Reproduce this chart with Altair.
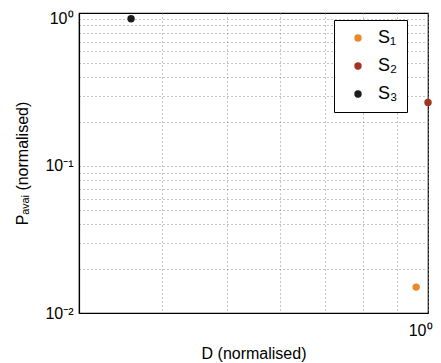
import altair as alt
import pandas as pd

series = ["S\u2081", "S\u2082", "S\u2083"]
d_vals = [0.96, 1.0, 0.359]
p_vals = [0.015, 0.27, 1.0]
colors = ["#e8892a", "#a3341f", "#1c1c1c"]

y_grid = [0.01, 0.02, 0.03, 0.04, 0.05, 0.06, 0.07, 0.08, 0.09,
          0.1, 0.2, 0.3, 0.4, 0.5, 0.6, 0.7, 0.8, 0.9, 1]
x_grid = [0.4, 0.5, 0.6, 0.7, 0.8, 0.9, 1]

df = pd.DataFrame({"series": series, "D": d_vals, "P": p_vals})

font = "Liberation Sans"

chart = alt.Chart(df).mark_circle(size=55, opacity=1).encode(
    x=alt.X("D:Q", scale=alt.Scale(type="log", domain=[0.3, 1.0], nice=False),
            axis=alt.Axis(title="D (normalised)", values=x_grid,
                          labelExpr="datum.value == 1 ? '10\u2070' : ''",
                          grid=True, gridDash=[1, 3], gridColor="#888888",
                          ticks=False, domainColor="black", domainWidth=1.2,
                          labelPadding=9, titlePadding=7,
                          labelAlign="right", labelOffset=4,
                          labelFontSize=16, titleFontSize=16,
                          labelFont=font, titleFont=font,
                          labelColor="black", titleColor="black",
                          titleFontWeight="normal", labelFlush=False)),
    y=alt.Y("P:Q", scale=alt.Scale(type="log", domain=[0.01, 1.094], nice=False),
            axis=alt.Axis(title="P\u2090\u1d65\u2090\u1d62 (normalised)", values=y_grid,
                          labelExpr="datum.value == 1 ? '10\u2070' : datum.value == 0.1 ? '10\u207b\u00b9' : datum.value == 0.01 ? '10\u207b\u00b2' : ''",
                          grid=True, gridDash=[1, 3], gridColor="#888888",
                          ticks=False, domainColor="black", domainWidth=1.2,
                          labelPadding=6, titlePadding=14,
                          labelFontSize=16, titleFontSize=16,
                          labelFont=font, titleFont=font,
                          labelColor="black", titleColor="black",
                          titleFontWeight="normal")),
    color=alt.Color("series:N", scale=alt.Scale(domain=series, range=colors),
                    legend=alt.Legend(title=None, orient="none", legendX=255, legendY=7,
                                      fillColor="white", strokeColor="black",
                                      padding=9, labelFontSize=18, labelFont=font,
                                      labelColor="black", symbolSize=55,
                                      symbolType="circle", rowPadding=10,
                                      labelOffset=11, symbolOffset=6)),
).properties(
    width=349, height=300,
    autosize=alt.AutoSizeParams(type="none"),
    padding={"left": 71, "top": 5, "right": 5, "bottom": 50},
).configure_view(stroke="black", strokeWidth=1.2)

chart.save("out.html", embed_options={"renderer": "svg", "actions": False})
